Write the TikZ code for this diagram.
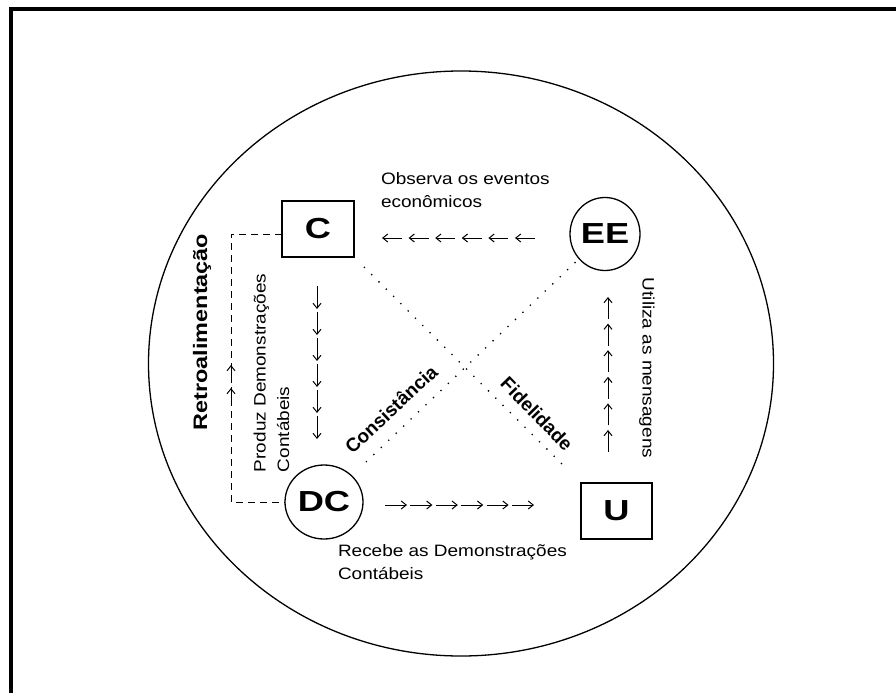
\documentclass[tikz,border=0pt]{standalone}
\usepackage{fontspec}
\setmainfont{Liberation Sans}
\newfontfamily\txtfont{Liberation Sans}[FakeStretch=1.15]
\newfontfamily\tagfont{Liberation Sans}[FakeStretch=1.2]
\newfontfamily\keyfont{Liberation Sans}[FakeStretch=1.25]
\usetikzlibrary{arrows.meta,shapes.geometric,calc}

\begin{document}
\begin{tikzpicture}[x=1pt,y=-1pt,
  every node/.style={inner sep=0pt, outer sep=0pt},
  frame/.style={line width=4.2pt},
  world/.style={draw, ellipse, line width=1.3pt, minimum width=625pt, minimum height=585pt},
  agentbox/.style={draw, rectangle, line width=1.3pt, minimum width=72pt, minimum height=56pt,
    font=\keyfont\bfseries\fontsize{29}{30}\selectfont},
  agentring/.style={draw, ellipse, line width=1.3pt,
    font=\keyfont\bfseries\fontsize{29}{30}\selectfont},
  fb/.style={line width=1pt, dash pattern=on 7pt off 5pt},
  tick/.style={line width=1pt, -{Straight Barb[length=5pt,width=8pt]}},
  dotline/.style={line width=1.3pt, dash pattern=on 1.3pt off 9pt},
  note/.style={font=\txtfont\fontsize{16.5}{23.5}\selectfont, align=left},
  keyword/.style={font=\tagfont\bfseries\fontsize{19.5}{22}\selectfont},
  quality/.style={font=\bfseries\fontsize{19}{22}\selectfont},
]
\useasboundingbox (0,0) rectangle (896,693);

% outer frame (top and left edges)
\coordinate (frameFoot) at (10.6,693);
\coordinate (frameCorner) at (10.6,8.9);
\coordinate (frameEnd) at (896,8.9);
\draw[frame] (frameFoot) -- (frameCorner) -- (frameEnd);

% environment
\node[world] (env) at (461,363.5) {};

% agents
\node[agentbox] (C) at (318,229) {C};
\node[agentring, minimum width=70pt, minimum height=73pt] (EE) at (605,234) {EE};
\node[agentring, minimum width=78pt, minimum height=74pt] (DC) at (324,502) {DC};
\node[agentbox, minimum width=71pt] (U) at (616.5,511) {U};

% quality relations
\draw[dotline, shorten <=14pt, shorten >=22pt] (C.south east) -- (U.north west);
\draw[dotline, shorten <=5pt, shorten >=20pt] (EE) -- (DC);

% feedback loop
\coordinate (fbx) at (231,0);
\draw[fb] ([yshift=-5pt]C.west) -| (fbx |- DC.west) -- (DC.west);
\draw[tick] (231,383) -- (231,365);
\draw[tick] (231,400) -- (231,388);

% flow chains
\coordinate (downA) at (317,286);
\foreach \k in {0,...,5}
  \draw[tick] ($(downA)+(0,{26*\k})$) -- ++(0,23);
\coordinate (upA) at (608,452);
\foreach \k in {0,...,5}
  \draw[tick] ($(upA)+(0,{-26.6*\k})$) -- ++(0,-22);
\coordinate (leftA) at (535,238);
\foreach \k in {0,...,5}
  \draw[tick] ($(leftA)+({-26.6*\k},0)$) -- ++(-20,0);
\coordinate (rightA) at (385,505);
\foreach \k in {0,...,5}
  \draw[tick] ($(rightA)+({25.4*\k},0)$) -- ++(22,0);

% labels
\node[note, anchor=west] (observe) at (381,190) {Observa os eventos\\econômicos};
\node[note, anchor=west] (receive) at (338,562) {Recebe as Demonstrações\\Contábeis};
\node[note, rotate=90, anchor=west] (produce) at (271.5,472) {Produz Demonstrações\\Contábeis};
\node[note, rotate=-90] (use) at (647,368) {Utiliza as mensagens};
\node[keyword, rotate=90] (retro) at (202,332) {Retroalimentação};
\node[quality, rotate=43] (consist) at (391,409) {Consistância};
\node[quality, rotate=-46] (fidel) at (537,414) {Fidelidade};
\end{tikzpicture}
\end{document}
